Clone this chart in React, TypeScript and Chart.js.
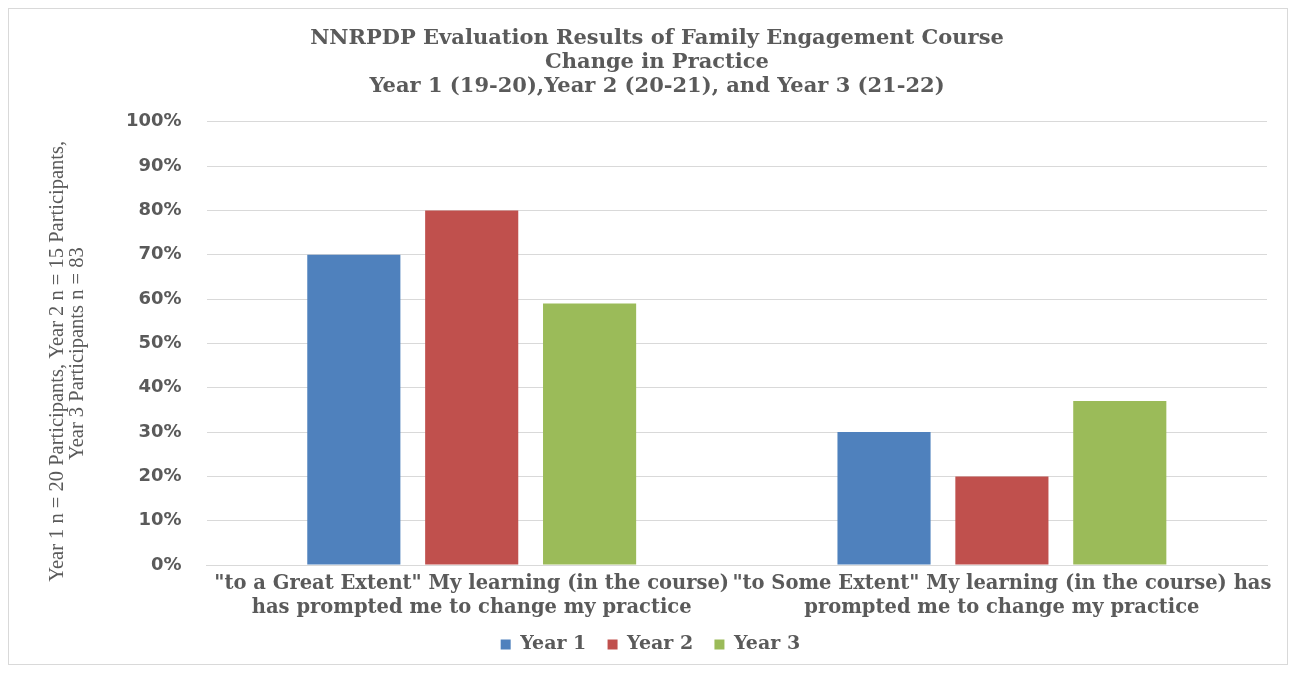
import React, { useEffect, useRef } from "react";
import { Chart, registerables } from "chart.js";

Chart.register(...registerables);

const categories: string[][] = [
  ['"to a Great Extent" My learning (in the course)', "has prompted me to change my practice"],
  ['"to Some Extent" My learning (in the course) has', "prompted me to change my practice"],
];
const year1: number[] = [70, 30];
const year2: number[] = [80, 20];
const year3: number[] = [59, 37];
const seriesNames: string[] = ["Year 1", "Year 2", "Year 3"];
const seriesColors: string[] = ["#4f81bd", "#c0504d", "#9bbb59"];
const titleLines: string[] = [
  "NNRPDP Evaluation Results of Family Engagement Course",
  "Change in Practice",
  "Year 1 (19-20),Year 2 (20-21), and Year 3 (21-22)",
];
const yTitleLines: string[] = [
  "Year 1 n = 20 Participants, Year 2 n = 15 Participants,",
  "Year 3 Participants n = 83",
];

export default function App() {
  const ref = useRef<HTMLCanvasElement | null>(null);
  useEffect(() => {
    if (!ref.current) return;
    const values = [year1, year2, year3];
    const chart = new Chart(ref.current, {
      type: "bar",
      data: {
        labels: categories,
        datasets: seriesNames.map((n, i) => ({
          label: n,
          data: values[i],
          backgroundColor: seriesColors[i],
          borderWidth: 0,
          categoryPercentage: 0.667,
          barPercentage: 0.79,
        })),
      },
      options: {
        animation: false,
        responsive: false,
        maintainAspectRatio: false,
        layout: { padding: { left: 38, right: 20, top: 18, bottom: 0 } },
        plugins: {
          title: {
            display: true,
            text: titleLines,
            color: "#5a5a5a",
            font: { family: "DejaVu Serif", size: 21, weight: "bold", lineHeight: 1.14 },
            padding: { top: 0, bottom: 23 },
          },
          legend: {
            position: "bottom",
            labels: {
              color: "#5a5a5a",
              font: { family: "DejaVu Serif", size: 19, weight: "bold" },
              boxWidth: 10,
              boxHeight: 10,
              padding: 8,
              generateLabels: (c: any) =>
                Chart.defaults.plugins.legend.labels
                  .generateLabels(c)
                  .map((l: any) => ({ ...l, text: l.text + "\u00a0\u00a0" })),
            },
          },
          tooltip: { enabled: false },
        },
        scales: {
          x: {
            grid: { display: false, drawTicks: false },
            border: { color: "#d9d9d9" },
            ticks: {
              color: "#5a5a5a",
              font: { family: "DejaVu Serif", size: 19.5, weight: "bold", lineHeight: 1.23 },
              padding: 7,
              maxRotation: 0,
              autoSkip: false,
            },
          },
          y: {
            min: 0,
            max: 100,
            grid: { color: "#d9d9d9", drawTicks: false },
            border: { display: false },
            ticks: {
              stepSize: 10,
              color: "#5a5a5a",
              font: { family: "DejaVu Sans", size: 18, weight: "bold" },
              padding: 25,
              callback: (v: any) => v + "%",
            },
            title: {
              display: true,
              text: yTitleLines.map((s, i) => s + (i === 0 ? "\u00a0".repeat(7) : "\u00a0".repeat(4))),
              color: "#5a5a5a",
              font: { family: "Liberation Serif", size: 20.5, lineHeight: 1.0 },
              padding: { top: 0, bottom: 13 },
            },
          },
        },
      },
    });
    return () => chart.destroy();
  }, []);
  return (
    <div
      style={{
        width: 1280,
        height: 657,
        border: "1px solid #d9d9d9",
        boxSizing: "border-box",
        background: "#fff",
      }}
    >
      <canvas ref={ref} width={1278} height={655} style={{ display: "block" }} />
    </div>
  );
}
